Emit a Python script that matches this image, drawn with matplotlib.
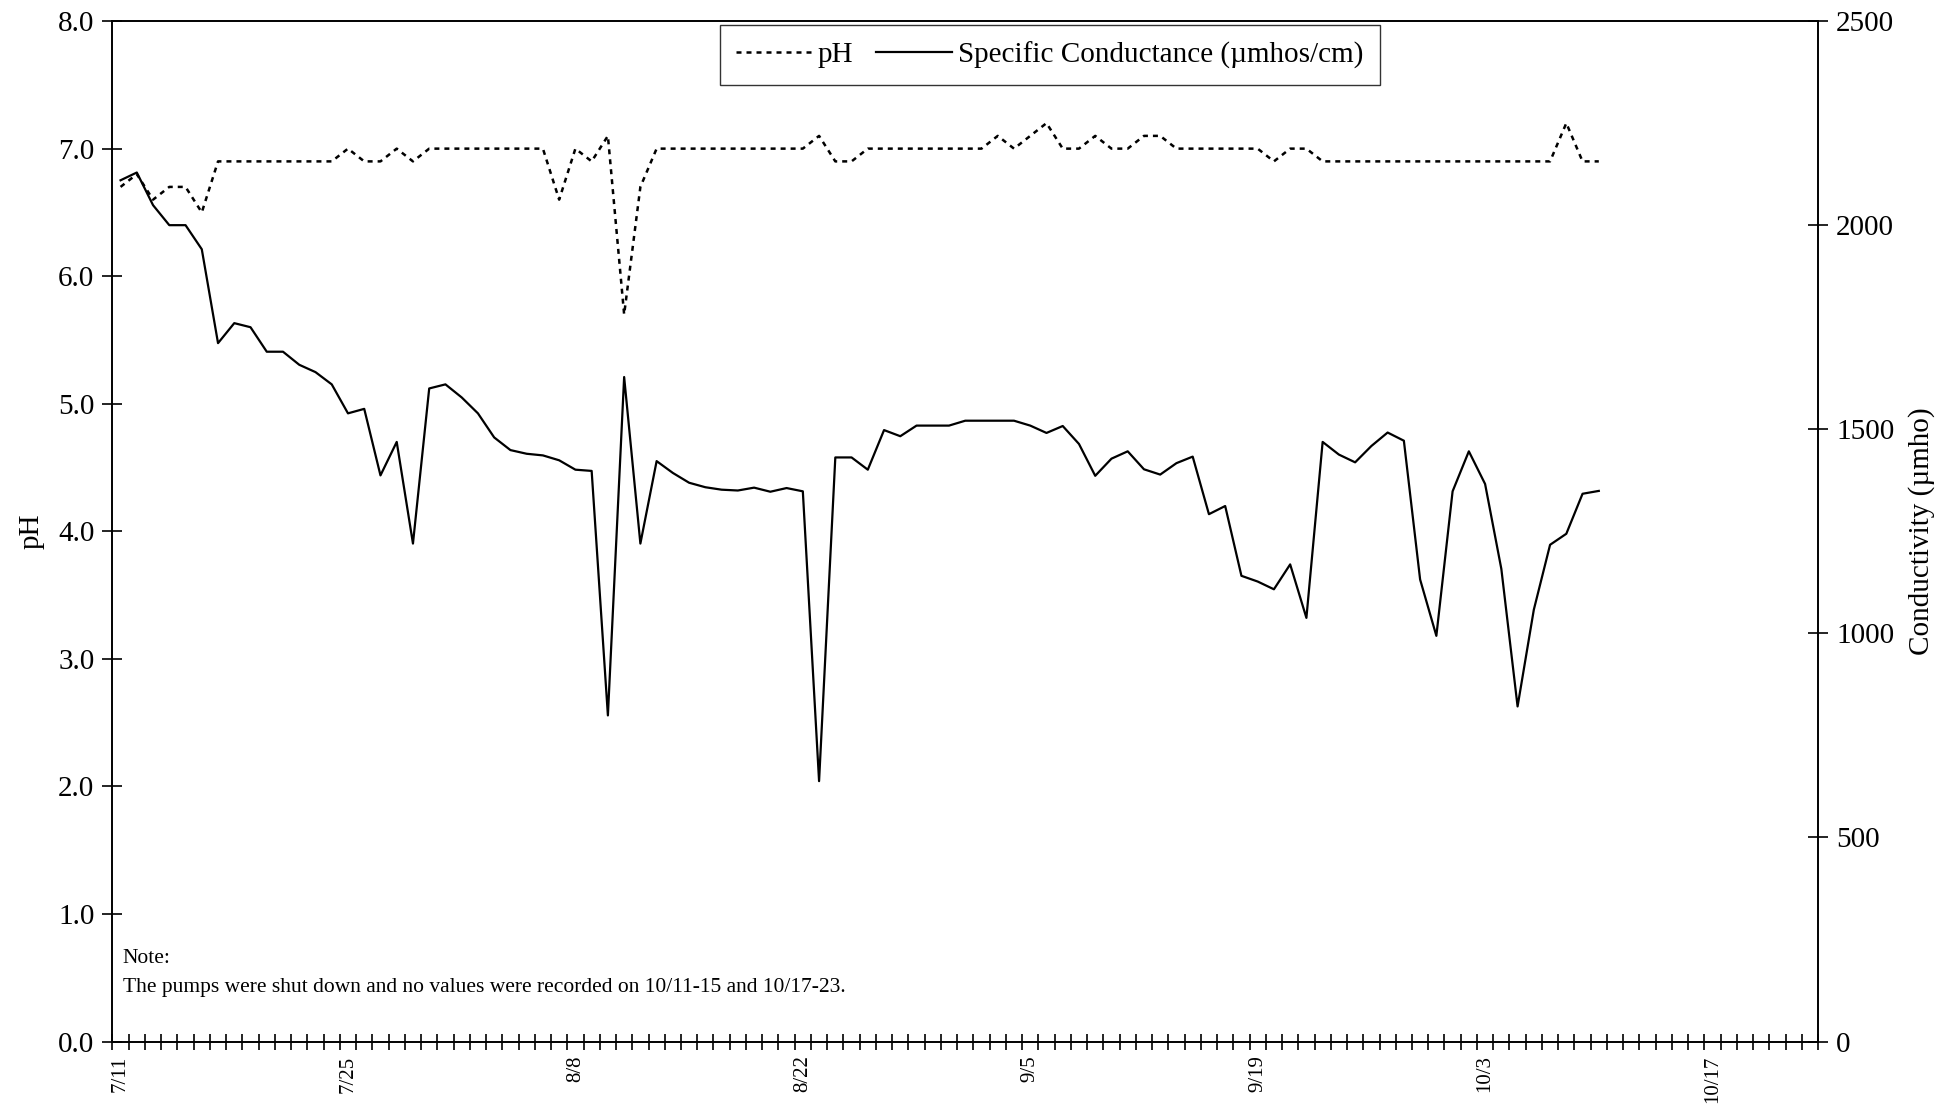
import matplotlib
matplotlib.use("Agg")
import matplotlib.pyplot as plt
from matplotlib.ticker import FixedLocator
import numpy as np

plt.rcParams['font.family'] = ['Liberation Serif', 'DejaVu Serif']

# Days since 7/11 (category positions), data recorded 7/11 .. 10/10
n_categories = 105  # 7/11 .. 10/23
date_labels = ["7/11", "7/25", "8/8", "8/22", "9/5", "9/19", "10/3", "10/17"]
label_days = [0, 14, 28, 42, 56, 70, 84, 98]

ph = [6.7, 6.8, 6.6, 6.7, 6.7, 6.5,
      6.9, 6.9, 6.9, 6.9, 6.9, 6.9, 6.9, 6.9,
      7.0, 6.9, 6.9, 7.0, 6.9,
      7.0, 7.0, 7.0, 7.0, 7.0, 7.0, 7.0, 7.0,
      6.6, 7.0, 6.9, 7.1, 5.7, 6.7,
      7.0, 7.0, 7.0, 7.0, 7.0, 7.0, 7.0, 7.0, 7.0, 7.0,
      7.1, 6.9, 6.9,
      7.0, 7.0, 7.0, 7.0, 7.0, 7.0, 7.0, 7.0,
      7.1, 7.0, 7.1, 7.2, 7.0, 7.0, 7.1, 7.0, 7.0, 7.1, 7.1,
      7.0, 7.0, 7.0, 7.0, 7.0, 7.0,
      6.9, 7.0, 7.0,
      6.9, 6.9, 6.9, 6.9, 6.9, 6.9, 6.9, 6.9, 6.9, 6.9, 6.9, 6.9, 6.9, 6.9, 6.9,
      7.2, 6.9, 6.9]

conductance = [2110, 2129, 2049, 2000, 2000, 1941, 1711, 1760, 1750, 1690,
               1690, 1658, 1640, 1610, 1539, 1550, 1387, 1469, 1220, 1600,
               1610, 1578, 1539, 1480, 1449, 1440, 1436, 1424, 1401, 1398,
               799, 1628, 1220, 1422, 1393, 1369, 1358, 1352, 1350, 1357,
               1347, 1356, 1348, 638, 1431, 1431, 1401, 1498, 1483, 1509,
               1509, 1509, 1521, 1521, 1521, 1521, 1509, 1491, 1508, 1464,
               1386, 1428, 1446, 1402, 1389, 1417, 1433, 1292, 1312, 1141,
               1127, 1108, 1169, 1038, 1469, 1438, 1419, 1459, 1492, 1472,
               1132, 994, 1348, 1446, 1366, 1158, 821, 1058, 1217, 1244,
               1342, 1349]

days_ph = np.arange(len(ph))
days_c = np.arange(len(conductance))

fig = plt.figure(figsize=(19.42, 11.09), dpi=100)
ax = fig.add_axes([0.0579, 0.0608, 0.8783, 0.9202])
ax2 = ax.twinx()

l1, = ax.plot(days_ph, ph, color='black', lw=1.8, linestyle=(0, (2, 2.0)), label='pH')
l2, = ax2.plot(days_c, conductance, color='black', lw=1.6, label='Specific Conductance (\u00b5mhos/cm)')

ax.set_xlim(-0.5, n_categories - 0.5)
ax.set_ylim(0, 8)
ax2.set_ylim(0, 2500)

ax.set_yticks(np.arange(0, 8.01, 1.0))
ax.set_yticklabels([f"{v:.1f}" for v in np.arange(0, 8.01, 1.0)])
ax2.set_yticks(np.arange(0, 2501, 500))

ax.set_xticks(label_days)
ax.set_xticklabels(date_labels, rotation=90)
ax.xaxis.set_minor_locator(FixedLocator(np.arange(-0.5, n_categories, 1.0)))
ax.tick_params(axis='x', which='major', length=0, pad=10, labelsize=15)
ax.tick_params(axis='x', which='minor', direction='inout', length=12, width=1.2)
ax.tick_params(axis='y', which='major', direction='inout', length=14, width=1.2, labelsize=21, pad=6)
ax2.tick_params(axis='y', which='major', direction='inout', length=14, width=1.2, labelsize=21, pad=6)

for a in (ax, ax2):
    for s in a.spines.values():
        s.set_linewidth(1.2)

ax.set_ylabel('pH', fontsize=21, labelpad=10)
ax2.set_ylabel('Conductivity (\u00b5mho)', fontsize=21, labelpad=10)

leg = ax.legend(handles=[l1, l2], loc='upper center', bbox_to_anchor=(0.5495, 1.0),
                ncol=2, frameon=True, fancybox=False, fontsize=21,
                handlelength=2.6, handletextpad=0.2, columnspacing=0.8,
                borderpad=0.55, edgecolor='black', borderaxespad=0.15)
leg.get_frame().set_linewidth(1.0)

ax.text(0.006, 0.081, 'Note:', transform=ax.transAxes, fontsize=15.5, va='center')
ax.text(0.006, 0.053, 'The pumps were shut down and no values were recorded on 10/11-15 and 10/17-23.',
        transform=ax.transAxes, fontsize=15.5, va='center')

fig.savefig('out.png', dpi=100)
